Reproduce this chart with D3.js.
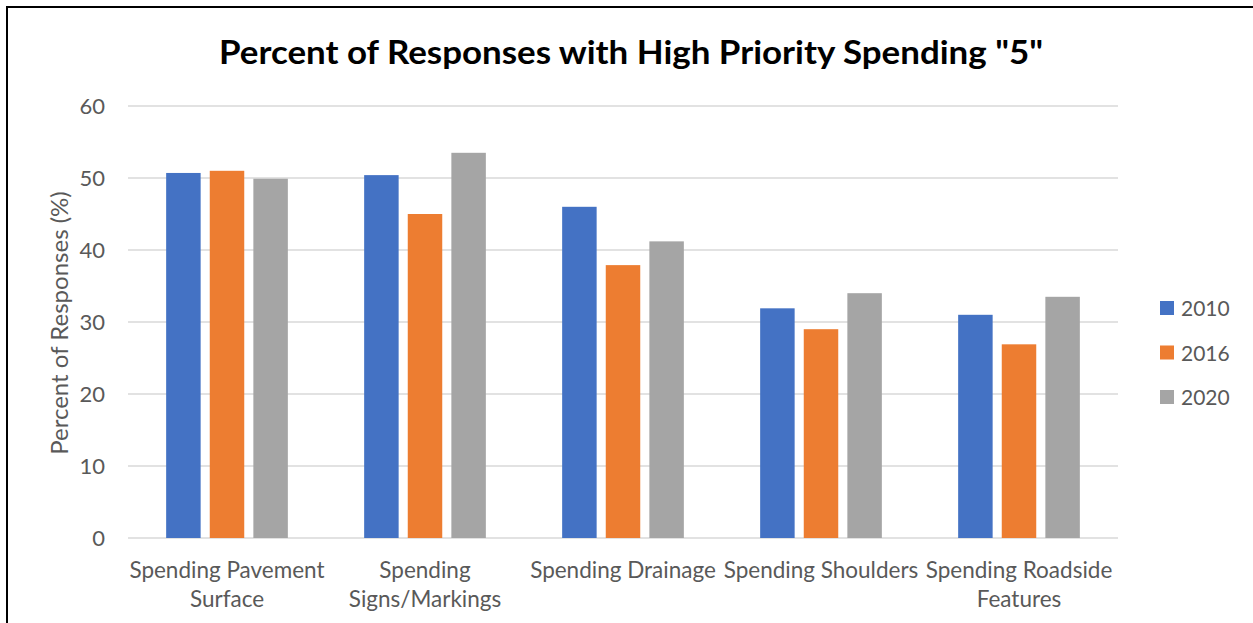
<!DOCTYPE html>
<html>
<head>
<meta charset="utf-8">
<script src="https://cdn.jsdelivr.net/npm/d3@7"></script>
<style>
  html, body { margin: 0; padding: 0; background: #ffffff; }
  svg { display: block; }
  text { font-family: Lato, "Open Sans", sans-serif; }
</style>
</head>
<body>
<svg id="chart" width="1253" height="623"></svg>
<script>
// Chart data
const categories = [
  "Spending Pavement Surface",
  "Spending Signs/Markings",
  "Spending Drainage",
  "Spending Shoulders",
  "Spending Roadside Features"
];
const categoryLines = [
  ["Spending Pavement", "Surface"],
  ["Spending", "Signs/Markings"],
  ["Spending Drainage"],
  ["Spending Shoulders"],
  ["Spending Roadside", "Features"]
];
const seriesNames = ["2010", "2016", "2020"];
const values2010 = [50.7, 50.4, 46.0, 31.9, 31.0];
const values2016 = [51.0, 45.0, 37.9, 29.0, 26.9];
const values2020 = [49.9, 53.5, 41.2, 34.0, 33.5];
const yTicks = [0, 10, 20, 30, 40, 50, 60];
const titleText = 'Percent of Responses with High Priority Spending "5"';
const yTitle = "Percent of Responses (%)";

const seriesValues = [values2010, values2016, values2020];
const colors = ["#4472C4", "#ED7D31", "#A5A5A5"];
const textColor = "#595959";
const gridColor = "#D9D9D9";

const svg = d3.select("#chart");

// Outer frame
svg.append("rect")
  .attr("x", 7).attr("y", 7)
  .attr("width", 1300).attr("height", 700)
  .attr("fill", "none")
  .attr("stroke", "#000")
  .attr("stroke-width", 2);

const plot = { left: 128, right: 1118, top: 106, bottom: 538 };

const x = d3.scaleBand()
  .domain(categories)
  .range([plot.left, plot.right])
  .paddingInner(0).paddingOuter(0);

const xInner = d3.scaleBand()
  .domain(seriesNames)
  .range([0, x.bandwidth()])
  .paddingInner(0.209)
  .paddingOuter(0.875);

const y = d3.scaleLinear()
  .domain([0, 60])
  .range([plot.bottom, plot.top]);

// Title
svg.append("text")
  .attr("x", 631).attr("y", 64)
  .attr("text-anchor", "middle")
  .attr("font-size", 33)
  .attr("font-weight", "bold")
  .attr("fill", "#000")
  .attr("textLength", 824)
  .attr("lengthAdjust", "spacingAndGlyphs")
  .text(titleText);

// Gridlines
svg.append("g")
  .selectAll("line")
  .data(yTicks)
  .join("line")
  .attr("x1", plot.left).attr("x2", plot.right)
  .attr("y1", d => y(d)).attr("y2", d => y(d))
  .attr("stroke", gridColor)
  .attr("stroke-width", 1.5);

// Y axis tick labels
const yAxis = d3.axisLeft(y).tickValues(yTicks).tickSize(0).tickPadding(23);
const yG = svg.append("g")
  .attr("transform", `translate(${plot.left},0)`)
  .call(yAxis);
yG.select(".domain").remove();
yG.selectAll("text")
  .attr("font-family", "Lato, 'Open Sans', sans-serif")
  .attr("font-size", 22)
  .attr("fill", textColor);

// Y axis title
svg.append("text")
  .attr("transform", `translate(68,${(plot.top + plot.bottom) / 2 + 1}) rotate(-90)`)
  .attr("text-anchor", "middle")
  .attr("font-size", 24)
  .attr("fill", textColor)
  .text(yTitle);

// Bars
const groups = svg.append("g")
  .selectAll("g")
  .data(categories)
  .join("g")
  .attr("transform", d => `translate(${x(d)},0)`);

groups.selectAll("rect")
  .data((d, i) => seriesNames.map((s, j) => ({ s, j, v: seriesValues[j][i] })))
  .join("rect")
  .attr("x", d => xInner(d.s))
  .attr("width", xInner.bandwidth())
  .attr("y", d => y(d.v))
  .attr("height", d => y(0) - y(d.v))
  .attr("fill", d => colors[d.j]);

// Category labels
const xLabels = svg.append("g")
  .selectAll("text")
  .data(categories)
  .join("text")
  .attr("x", d => x(d) + x.bandwidth() / 2)
  .attr("y", 578)
  .attr("text-anchor", "middle")
  .attr("font-size", 22.5)
  .attr("fill", textColor);
xLabels.selectAll("tspan")
  .data((d, i) => categoryLines[i])
  .join("tspan")
  .attr("x", function () { return d3.select(this.parentNode).attr("x"); })
  .attr("dy", (d, i) => i === 0 ? 0 : 29)
  .text(d => d);

// Legend
const legend = svg.append("g")
  .selectAll("g")
  .data(seriesNames)
  .join("g")
  .attr("transform", (d, i) => `translate(1160,${308 + i * 44.5})`);
legend.append("rect")
  .attr("x", 0).attr("y", -7)
  .attr("width", 14).attr("height", 14)
  .attr("fill", (d, i) => colors[i]);
legend.append("text")
  .attr("x", 21).attr("y", 8)
  .attr("font-size", 21)
  .attr("fill", textColor)
  .text(d => d);
</script>
</body>
</html>
